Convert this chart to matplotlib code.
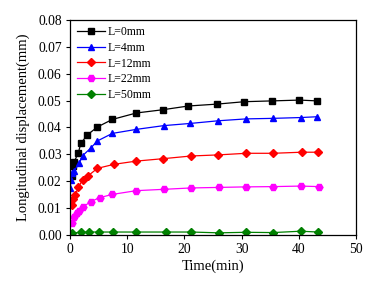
import matplotlib
matplotlib.use("Agg")
import matplotlib.pyplot as plt

plt.rcParams['font.family'] = ['Liberation Serif', 'DejaVu Serif']

labels = ["L=0mm", "L=4mm", "L=12mm", "L=22mm", "L=50mm"]

t_black = [0.3, 0.6, 0.75, 1.45, 1.9, 3.0, 4.8, 7.4, 11.6, 16.2, 20.7, 25.7, 30.5, 35.4, 40.1, 43.2]
v_black = [0.0220, 0.0255, 0.0273, 0.0306, 0.0341, 0.0372, 0.0402, 0.0430, 0.0454, 0.0466, 0.0480,
           0.0487, 0.0496, 0.0499, 0.0502, 0.0499]

t_blue = [0.05, 0.15, 0.3, 0.7, 1.6, 2.2, 3.6, 4.8, 7.4, 11.6, 16.4, 21.0, 25.9, 30.8, 35.5, 40.3, 43.2]
v_blue = [0.0175, 0.0205, 0.0230, 0.0238, 0.0267, 0.0295, 0.0323, 0.0350, 0.0378, 0.0393, 0.0407,
          0.0415, 0.0425, 0.0432, 0.0434, 0.0437, 0.0440]

t_red = [0.3, 0.6, 0.9, 1.45, 2.2, 3.2, 4.8, 7.7, 11.6, 16.3, 21.2, 25.9, 30.8, 35.5, 40.5, 43.4]
v_red = [0.0112, 0.0134, 0.0149, 0.0177, 0.0205, 0.0221, 0.0248, 0.0263, 0.0275, 0.0284, 0.0294,
         0.0298, 0.0304, 0.0304, 0.0308, 0.0308]

t_mag = [0.3, 0.7, 1.3, 1.6, 2.2, 3.6, 5.2, 7.4, 11.6, 16.5, 21.1, 26.0, 30.7, 35.5, 40.3, 43.6]
v_mag = [0.0045, 0.0068, 0.0083, 0.0089, 0.0103, 0.0124, 0.0139, 0.0151, 0.0165, 0.0170, 0.0175,
         0.0177, 0.0179, 0.0180, 0.0182, 0.0180]

t_green = [0.3, 1.9, 3.4, 5.0, 7.6, 11.6, 16.7, 21.2, 26.0, 30.7, 35.5, 40.3, 43.4]
v_green = [0.0007, 0.0010, 0.0011, 0.0011, 0.0011, 0.0011, 0.0011, 0.0011, 0.0008, 0.0010,
           0.0009, 0.0014, 0.0011]

series = [
    (t_black, v_black, "black", "s"),
    (t_blue, v_blue, "#0000ff", "^"),
    (t_red, v_red, "#ff0000", "D"),
    (t_mag, v_mag, "#ff00ff", "H"),
    (t_green, v_green, "#008000", "D"),
]

fig = plt.figure(figsize=(3.83, 2.89), dpi=100)
ax = fig.add_axes([0.1828, 0.1869, 0.9295 - 0.1828, 0.9308 - 0.1869])

for (t, v, c, m), lab in zip(series, labels):
    ms = 5.0 if m in ("s", "^", "H") else 4.3
    ax.plot(t, v, color=c, marker=m, markersize=ms, linewidth=0.9, label=lab)

ax.set_xlim(0, 50)
ax.set_ylim(0, 0.08)
ax.set_xticks([0, 10, 20, 30, 40, 50])
ax.set_yticks([0.00, 0.01, 0.02, 0.03, 0.04, 0.05, 0.06, 0.07, 0.08])
ax.set_yticklabels([f"{y:.2f}" for y in ax.get_yticks()])
ax.tick_params(direction='out', length=3, width=0.8, labelsize=9.8, top=False, right=False, pad=3)
for s in ax.spines.values():
    s.set_linewidth(0.9)

ax.set_xlabel("Time(min)", fontsize=10.5, labelpad=2)
ax.set_ylabel("Longitudinal displacement(mm)", fontsize=10.5, labelpad=6)

leg = ax.legend(loc='upper left', frameon=False, fontsize=8.5, handlelength=2.4,
                labelspacing=0.3, borderaxespad=0.25, handletextpad=0.25, borderpad=0.3)

fig.savefig("out.png", dpi=100)
